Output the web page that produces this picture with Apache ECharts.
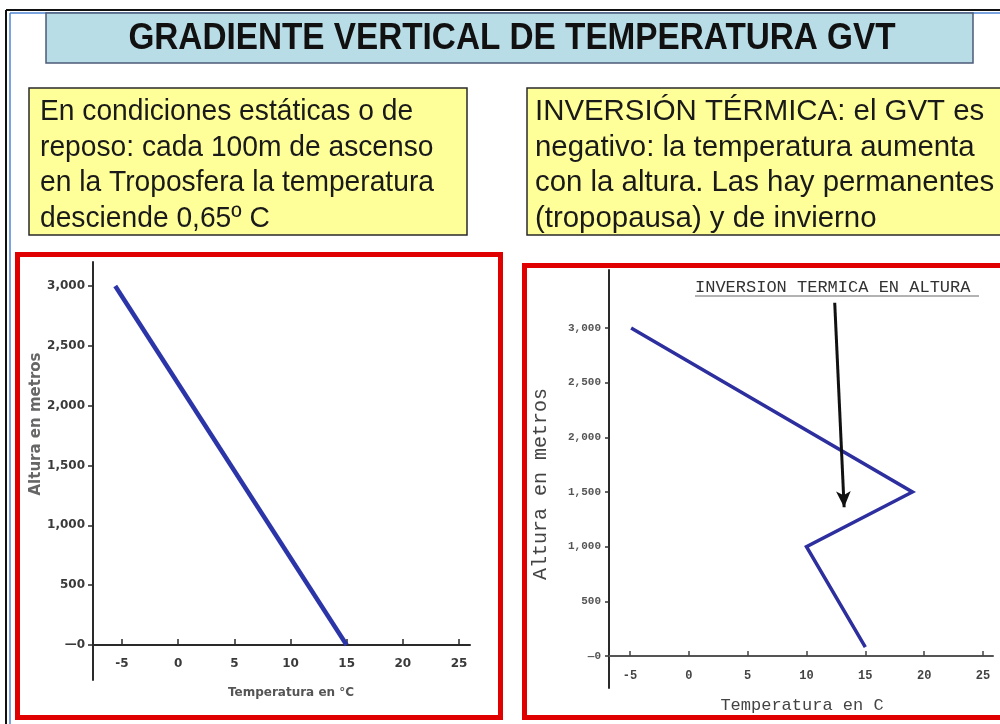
<!DOCTYPE html>
<html>
<head>
<meta charset="utf-8">
<title>Gradiente vertical de temperatura GVT</title>
<script src="https://cdn.jsdelivr.net/npm/echarts@6/dist/echarts.min.js"></script>
<style>
  html, body { margin: 0; padding: 0; background: #ffffff; }
  #chart { width: 1000px; height: 724px; }
</style>
</head>
<body>
<div id="chart"></div>
<script>
// Temperature ticks (°C) and altitude ticks (m) shared by both profiles
const tempTicks = [-5, 0, 5, 10, 15, 20, 25];
const altTicks = [0, 500, 1000, 1500, 2000, 2500, 3000];

// Static troposphere: steady fall of temperature with height
const staticProfile = [[-5.6, 3000], [15, 0]];

// Profile with a thermal inversion between 1,000 and 1,500 m
const inversionProfile = [[-4.9, 3000], [19, 1500], [10, 1000], [15, 80]];

// Arrow pointing at the inversion layer (temperature, altitude)
const arrowFrom = [12.4, 3230];
const arrowTo = [13.2, 1360];

const titleText = 'GRADIENTE VERTICAL DE TEMPERATURA GVT';
const leftNote = [
  'En condiciones estáticas o de',
  'reposo: cada 100m de ascenso',
  'en la Troposfera la temperatura',
  'desciende 0,65º C'
];
const rightNote = [
  'INVERSIÓN TÉRMICA: el GVT es',
  'negativo: la temperatura aumenta',
  'con la altura. Las hay permanentes',
  '(tropopausa) y de invierno'
];
const inversionLabel = 'INVERSION TERMICA EN ALTURA';

const narrow = '"Liberation Sans Narrow", "Arial Narrow", "Liberation Sans", sans-serif';
const mono = '"Liberation Mono", "DejaVu Sans Mono", monospace';
const sans = '"DejaVu Sans", sans-serif';

function altLabel(v) {
  return v === 0 ? '—0' : v.toLocaleString('en-US');
}

// Lines of a note box, slightly condensed horizontally
function noteLines(lines, x, sx) {
  return lines.map((t, i) => ({
    type: 'text', x: x, y: 112 + i * 35.5, scaleX: sx,
    style: { text: t, font: '30px ' + narrow, fill: '#1a1a1a', verticalAlign: 'middle', align: 'left' }
  }));
}

const chart = echarts.init(document.getElementById('chart'), null, { renderer: 'canvas' });

const option = {
  backgroundColor: '#ffffff',
  animation: false,
  graphic: [
    // slide frame
    { type: 'line', shape: { x1: 6, y1: 10, x2: 1000, y2: 10 }, style: { stroke: '#111', lineWidth: 2 } },
    { type: 'line', shape: { x1: 6, y1: 10, x2: 6, y2: 724 }, style: { stroke: '#111', lineWidth: 2 } },
    { type: 'line', shape: { x1: 10, y1: 13, x2: 1000, y2: 13 }, style: { stroke: '#4f86d4', lineWidth: 1.5 } },
    { type: 'line', shape: { x1: 10, y1: 13, x2: 10, y2: 724 }, style: { stroke: '#4f86d4', lineWidth: 1.5 } },
    // title banner
    { type: 'rect', shape: { x: 46, y: 13, width: 927, height: 50 },
      style: { fill: '#b8dde6', stroke: '#4c5a78', lineWidth: 1.5 } },
    { type: 'text', x: 512, y: 39, scaleX: 0.9,
      style: { text: titleText, font: 'bold 37px ' + narrow, fill: '#111', align: 'center', verticalAlign: 'middle' } },
    // note boxes
    { type: 'rect', shape: { x: 29, y: 88, width: 438, height: 147 },
      style: { fill: '#ffff99', stroke: '#2a2a2a', lineWidth: 1.5 } },
    { type: 'rect', shape: { x: 527, y: 88, width: 480, height: 147 },
      style: { fill: '#ffff99', stroke: '#2a2a2a', lineWidth: 1.5 } },
    ...noteLines(leftNote, 40, 0.94),
    ...noteLines(rightNote, 535, 0.98),
    // red frames around the diagrams
    { type: 'rect', shape: { x: 17.5, y: 254.5, width: 483, height: 463 },
      style: { fill: 'none', stroke: '#e10000', lineWidth: 5 } },
    { type: 'rect', shape: { x: 524.5, y: 265.5, width: 480, height: 452 },
      style: { fill: 'none', stroke: '#e10000', lineWidth: 5 } },
    // axis titles
    { type: 'text', x: 36, y: 424, rotation: Math.PI / 2,
      style: { text: 'Altura en metros', font: 'bold 15px ' + sans, fill: '#666', align: 'center', verticalAlign: 'middle' } },
    { type: 'text', x: 291, y: 693,
      style: { text: 'Temperatura en °C', font: 'bold 12px ' + sans, fill: '#555', align: 'center', verticalAlign: 'middle' } },
    { type: 'text', x: 541, y: 484, rotation: Math.PI / 2,
      style: { text: 'Altura en metros', font: '20px ' + mono, fill: '#444', align: 'center', verticalAlign: 'middle' } },
    { type: 'text', x: 802, y: 705,
      style: { text: 'Temperatura en C', font: '17px ' + mono, fill: '#444', align: 'center', verticalAlign: 'middle' } },
    // inversion caption, underlined
    { type: 'text', x: 695, y: 287,
      style: { text: inversionLabel, font: '17px ' + mono, fill: '#333', align: 'left', verticalAlign: 'middle' } },
    { type: 'line', shape: { x1: 695, y1: 296, x2: 979, y2: 296 }, style: { stroke: '#666', lineWidth: 1 } }
  ],
  grid: [
    { left: 93, top: 262, width: 377, height: 418, outerBoundsMode: 'none', containLabel: false },
    { left: 609, top: 270, width: 384, height: 418, outerBoundsMode: 'none', containLabel: false }
  ],
  xAxis: [
    {
      gridIndex: 0, type: 'value', min: -7.58, max: 25.98,
      axisLine: { onZero: true, lineStyle: { color: '#2a2a2a', width: 2 } },
      axisTick: { show: true, inside: true, length: 6, customValues: tempTicks, lineStyle: { color: '#2a2a2a', width: 1.5 } },
      axisLabel: { customValues: tempTicks, margin: -22, fontFamily: sans, fontWeight: 'bold', fontSize: 12, color: '#3a3a3a',
        formatter: v => String(v) },
      splitLine: { show: false }
    },
    {
      gridIndex: 1, type: 'value', min: -6.78, max: 25.85,
      axisLine: { onZero: true, lineStyle: { color: '#555', width: 2 } },
      axisTick: { show: true, inside: true, length: 5, customValues: tempTicks, lineStyle: { color: '#444', width: 1.5 } },
      axisLabel: { customValues: tempTicks, margin: -18, fontFamily: mono, fontWeight: 'bold', fontSize: 12, color: '#444',
        formatter: v => String(v) },
      splitLine: { show: false }
    }
  ],
  yAxis: [
    {
      gridIndex: 0, type: 'value', min: -292, max: 3200,
      axisLine: { show: true, onZero: false, lineStyle: { color: '#2a2a2a', width: 2 } },
      axisTick: { show: true, length: 5, customValues: altTicks, lineStyle: { color: '#2a2a2a', width: 1.5 } },
      axisLabel: { customValues: altTicks, margin: 8, fontFamily: sans, fontWeight: 'bold', fontSize: 12, color: '#3a3a3a',
        formatter: altLabel },
      splitLine: { show: false }
    },
    {
      gridIndex: 1, type: 'value', min: -293, max: 3530,
      axisLine: { show: true, onZero: false, lineStyle: { color: '#2a2a2a', width: 2 } },
      axisTick: { show: true, length: 4, customValues: altTicks, lineStyle: { color: '#333', width: 1.5 } },
      axisLabel: { customValues: altTicks, margin: 8, fontFamily: mono, fontWeight: 'bold', fontSize: 11, color: '#555',
        formatter: altLabel },
      splitLine: { show: false }
    }
  ],
  series: [
    {
      type: 'line', xAxisIndex: 0, yAxisIndex: 0, data: staticProfile,
      showSymbol: false, symbol: 'none',
      lineStyle: { color: '#2b35a8', width: 4.5 }
    },
    {
      type: 'line', xAxisIndex: 1, yAxisIndex: 1, data: inversionProfile,
      showSymbol: false, symbol: 'none',
      lineStyle: { color: '#2e2f9e', width: 3.5, join: 'miter' },
      markLine: {
        silent: true,
        symbol: ['none', 'arrow'], symbolSize: [11, 16],
        label: { show: false },
        lineStyle: { color: '#111', width: 3, type: 'solid' },
        data: [[{ coord: arrowFrom }, { coord: arrowTo }]]
      }
    }
  ]
};

chart.setOption(option);
</script>
</body>
</html>
